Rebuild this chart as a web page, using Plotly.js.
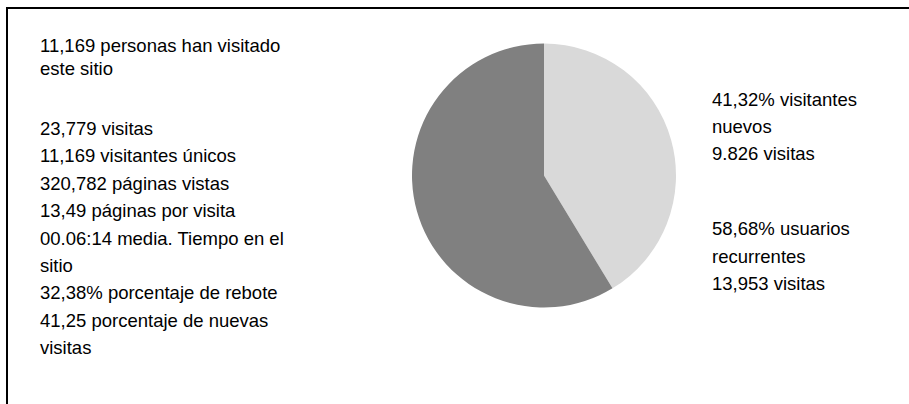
<!DOCTYPE html>
<html>
<head>
<meta charset="utf-8">
<script src="https://cdn.plot.ly/plotly-3.0.1.min.js"></script>
<style>
  html, body { margin: 0; padding: 0; background: #ffffff; }
  #chart { width: 909px; height: 404px; }
</style>
</head>
<body>
<div id="chart"></div>
<script>
// ---- Data ----
const sliceLabels = ["visitantes nuevos", "usuarios recurrentes"];
const slicePercents = [41.32, 58.68];
const sliceColors = ["#d9d9d9", "#808080"];

const titleLines = [
  "11,169 personas han visitado",
  "este sitio"
];
const leftLines = [
  "23,779 visitas",
  "11,169 visitantes únicos",
  "320,782 páginas vistas",
  "13,49 páginas por visita",
  "00.06:14 media. Tiempo en el",
  "sitio",
  "32,38% porcentaje de rebote",
  "41,25 porcentaje de nuevas",
  "visitas"
];
const rightLinesNew = ["41,32% visitantes", "nuevos", "9.826 visitas"];
const rightLinesRet = ["58,68% usuarios", "recurrentes", "13,953 visitas"];

// ---- Layout constants ----
const W = 909, H = 404;
const FONT = { family: "Liberation Sans, Arial, sans-serif", size: 18.5, color: "#000000" };
const LEFT_X = 38, TITLE_Y0 = 46, TITLE_LINE_H = 22.5;
const LEFT_Y0 = 128.5, LINE_H = 27.4;
const RIGHT_X = 710, RIGHT_Y0 = 99, RIGHT_Y1 = 229;
const PIE_CX = 544, PIE_CY = 175.5, PIE_R = 132;

function ann(text, px, py) {
  return {
    text: text, xref: "paper", yref: "paper",
    x: px / W, y: 1 - py / H, xanchor: "left", yanchor: "middle",
    showarrow: false, font: FONT, align: "left"
  };
}

const annotations = [];
titleLines.forEach((t, i) => annotations.push(ann(t, LEFT_X, TITLE_Y0 + i * TITLE_LINE_H)));
leftLines.forEach((t, i) => annotations.push(ann(t, LEFT_X, LEFT_Y0 + i * LINE_H)));
rightLinesNew.forEach((t, i) => annotations.push(ann(t, RIGHT_X, RIGHT_Y0 + i * LINE_H)));
rightLinesRet.forEach((t, i) => annotations.push(ann(t, RIGHT_X, RIGHT_Y1 + i * LINE_H)));

const trace = {
  type: "pie",
  labels: sliceLabels,
  values: slicePercents,
  sort: false,
  direction: "clockwise",
  rotation: 0,
  textinfo: "none",
  hoverinfo: "skip",
  marker: { colors: sliceColors, line: { width: 0 } },
  domain: {
    x: [(PIE_CX - PIE_R) / W, (PIE_CX + PIE_R) / W],
    y: [1 - (PIE_CY + PIE_R) / H, 1 - (PIE_CY - PIE_R) / H]
  },
  showlegend: false
};

const layout = {
  width: W, height: H,
  margin: { l: 0, r: 0, t: 0, b: 0 },
  paper_bgcolor: "#ffffff",
  plot_bgcolor: "#ffffff",
  showlegend: false,
  annotations: annotations,
  shapes: [{
    type: "rect", xref: "paper", yref: "paper",
    x0: 7 / W, x1: 1.05, y0: -0.05, y1: 1 - 8 / H,
    line: { color: "#000000", width: 2 }, fillcolor: "rgba(0,0,0,0)"
  }]
};

Plotly.newPlot("chart", [trace], layout, { staticPlot: true, displayModeBar: false });
</script>
</body>
</html>
